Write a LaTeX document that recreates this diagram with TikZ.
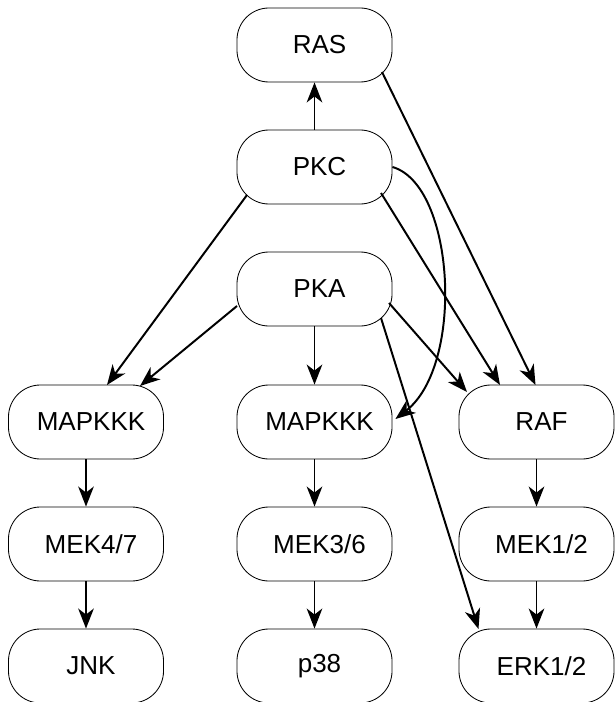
\documentclass[tikz,border=0pt]{standalone}
\usepackage{fontspec}
\setmainfont{Liberation Sans}
\usetikzlibrary{arrows.meta,calc}

\begin{document}
\begin{tikzpicture}[x=0.025cm,y=-0.025cm,>={Stealth[length=5mm,width=3.9mm,inset=1.5mm]},
  box/.style={draw,line width=0.6pt,rounded corners=0.8cm,minimum width=3.875cm,minimum height=1.85cm,inner sep=0pt,
    font=\fontsize{18.5}{22}\selectfont,execute at begin node=\hspace*{0.25cm}},
  link/.style={->,line width=1.4pt}]
\useasboundingbox (0,0) rectangle (614,702);
% top column
\node[box] (ras) at (314.5,45) {RAS};
\node[box] (pkc) at (314.5,167) {PKC};
\node[box] (pka) at (314.5,289) {PKA};
% three cascades
\node[box] (mapkkkL) at (86,422) {MAPKKK};
\node[box] (mapkkkM) at (314.5,422) {MAPKKK};
\node[box] (raf) at (536.5,422) {RAF};
\node[box] (mek47) at (86,544) {MEK4/7};
\node[box] (mek36) at (314.5,544) {MEK3/6};
\node[box] (mek12) at (536.5,544) {MEK1/2};
\node[box] (jnk) at (86,666) {JNK};
\node[box] (p38) at (314.5,666) {p38};
\node[box] (erk) at (536.5,666) {ERK1/2};

\draw[link] (pkc) -- (ras);
\draw[link] ($(ras)+(67.5,27)$) -- ($(raf)+(-1,-37)$);
\draw[link] ($(pkc)+(66.5,26)$) -- ($(raf)+(-36.5,-37)$);
\draw[link] ($(pka)+(74.5,14)$) -- ($(raf)+(-69.5,-30)$);
\draw[link] ($(pka)+(66.5,29)$) -- ($(erk)+(-58,-37)$);
\draw[link] ($(pkc)+(-67.5,28)$) -- ($(mapkkkL)+(21,-37)$);
\draw[link] ($(pka)+(-77.5,17)$) -- ($(mapkkkL)+(54,-36)$);
\draw[link] (pka) -- (mapkkkM);
\draw[link] (pkc.east) .. controls (455,185) and (465,365) .. ($(mapkkkM.east)+(3,-3)$);
% cascades
\draw[link] (mapkkkL) -- (mek47);
\draw[link] (mek47) -- (jnk);
\draw[link] (mapkkkM) -- (mek36);
\draw[link] (mek36) -- (p38);
\draw[link] (raf) -- (mek12);
\draw[link] (mek12) -- (erk);
\end{tikzpicture}
\end{document}
